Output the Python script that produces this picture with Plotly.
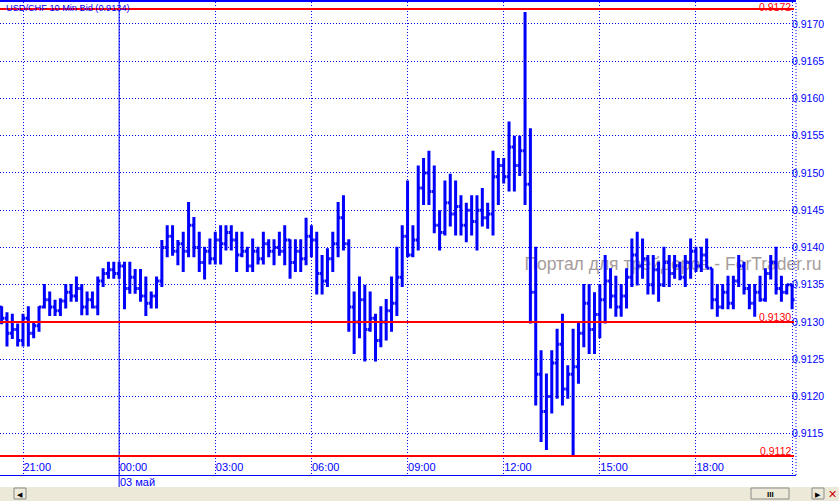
import pandas as pd
import plotly.graph_objects as go

# ---- data (USD/CHF, 10-minute bars, Bid) ----
bar_times = pd.date_range("2012-05-02 20:20", periods=149, freq="10min")

open_ = [
    0.91320, 0.91305, 0.91285, 0.91290, 0.91275, 0.91305, 0.91285, 0.91295, 0.91320, 0.91330,
    0.91320, 0.91315, 0.91328, 0.91340, 0.91335, 0.91345, 0.91320, 0.91330, 0.91320, 0.91355,
    0.91365, 0.91370, 0.91365, 0.91375, 0.91345, 0.91360, 0.91345, 0.91335, 0.91325, 0.91335,
    0.91355, 0.91400, 0.91415, 0.91395, 0.91405, 0.91395, 0.91430, 0.91400, 0.91380, 0.91395,
    0.91385, 0.91410, 0.91405, 0.91420, 0.91410, 0.91390, 0.91395, 0.91375, 0.91395, 0.91385,
    0.91405, 0.91395, 0.91400, 0.91395, 0.91410, 0.91380, 0.91395, 0.91385, 0.91415, 0.91410,
    0.91365, 0.91355, 0.91385, 0.91405, 0.91440, 0.91405, 0.91320, 0.91300, 0.91330, 0.91290,
    0.91305, 0.91275, 0.91300, 0.91315, 0.91325, 0.91360, 0.91415, 0.91390, 0.91410, 0.91480,
    0.91500, 0.91475, 0.91430, 0.91420, 0.91460, 0.91445, 0.91455, 0.91430, 0.91450, 0.91435,
    0.91450, 0.91440, 0.91445, 0.91495, 0.91510, 0.91495, 0.91535, 0.91510, 0.91530, 0.91485,
    0.91340, 0.91230, 0.91180, 0.91200, 0.91245, 0.91270, 0.91210, 0.91230, 0.91240, 0.91285,
    0.91325, 0.91290, 0.91310, 0.91330, 0.91355, 0.91335, 0.91320, 0.91335, 0.91360, 0.91390,
    0.91375, 0.91385, 0.91350, 0.91370, 0.91350, 0.91380, 0.91365, 0.91375, 0.91360, 0.91380,
    0.91395, 0.91375, 0.91390, 0.91372, 0.91330, 0.91320, 0.91340, 0.91325, 0.91355, 0.91375,
    0.91345, 0.91325, 0.91340, 0.91330, 0.91365, 0.91380, 0.91345, 0.91340, 0.91350,
]
high = [
    0.91321, 0.91313, 0.91311, 0.91298, 0.91311, 0.91321, 0.91300, 0.91321, 0.91351, 0.91341,
    0.91330, 0.91332, 0.91351, 0.91351, 0.91361, 0.91351, 0.91341, 0.91341, 0.91361, 0.91372,
    0.91381, 0.91381, 0.91381, 0.91381, 0.91381, 0.91371, 0.91371, 0.91361, 0.91341, 0.91361,
    0.91410, 0.91430, 0.91430, 0.91410, 0.91421, 0.91461, 0.91441, 0.91421, 0.91401, 0.91412,
    0.91421, 0.91430, 0.91430, 0.91430, 0.91421, 0.91421, 0.91401, 0.91412, 0.91401, 0.91421,
    0.91411, 0.91411, 0.91421, 0.91430, 0.91411, 0.91411, 0.91411, 0.91440, 0.91430, 0.91421,
    0.91390, 0.91399, 0.91421, 0.91461, 0.91470, 0.91411, 0.91341, 0.91361, 0.91350, 0.91341,
    0.91311, 0.91321, 0.91331, 0.91361, 0.91401, 0.91430, 0.91490, 0.91430, 0.91510, 0.91520,
    0.91530, 0.91510, 0.91450, 0.91490, 0.91499, 0.91490, 0.91470, 0.91460, 0.91470, 0.91470,
    0.91480, 0.91460, 0.91530, 0.91520, 0.91520, 0.91569, 0.91550, 0.91550, 0.91716, 0.91560,
    0.91401, 0.91262, 0.91231, 0.91262, 0.91291, 0.91311, 0.91242, 0.91291, 0.91300, 0.91351,
    0.91351, 0.91340, 0.91351, 0.91390, 0.91372, 0.91362, 0.91351, 0.91372, 0.91412, 0.91421,
    0.91412, 0.91390, 0.91390, 0.91381, 0.91401, 0.91390, 0.91390, 0.91381, 0.91390, 0.91412,
    0.91401, 0.91401, 0.91412, 0.91372, 0.91351, 0.91351, 0.91362, 0.91362, 0.91390, 0.91381,
    0.91351, 0.91351, 0.91362, 0.91372, 0.91390, 0.91401, 0.91362, 0.91351, 0.91351,
]
low = [
    0.91297, 0.91267, 0.91277, 0.91267, 0.91267, 0.91267, 0.91278, 0.91287, 0.91318, 0.91308,
    0.91308, 0.91308, 0.91318, 0.91327, 0.91327, 0.91309, 0.91309, 0.91318, 0.91309, 0.91347,
    0.91358, 0.91358, 0.91358, 0.91317, 0.91338, 0.91338, 0.91327, 0.91308, 0.91318, 0.91318,
    0.91347, 0.91387, 0.91389, 0.91376, 0.91367, 0.91387, 0.91387, 0.91367, 0.91357, 0.91377,
    0.91377, 0.91377, 0.91396, 0.91396, 0.91367, 0.91387, 0.91367, 0.91367, 0.91377, 0.91377,
    0.91387, 0.91376, 0.91389, 0.91376, 0.91358, 0.91367, 0.91367, 0.91376, 0.91387, 0.91337,
    0.91337, 0.91347, 0.91367, 0.91387, 0.91396, 0.91287, 0.91257, 0.91278, 0.91247, 0.91287,
    0.91247, 0.91266, 0.91275, 0.91287, 0.91308, 0.91347, 0.91387, 0.91387, 0.91396, 0.91457,
    0.91457, 0.91419, 0.91396, 0.91416, 0.91428, 0.91416, 0.91416, 0.91407, 0.91416, 0.91396,
    0.91428, 0.91425, 0.91416, 0.91457, 0.91486, 0.91475, 0.91475, 0.91496, 0.91457, 0.91298,
    0.91188, 0.91139, 0.91128, 0.91177, 0.91197, 0.91188, 0.91197, 0.91119, 0.91217, 0.91266,
    0.91257, 0.91257, 0.91278, 0.91298, 0.91318, 0.91307, 0.91307, 0.91318, 0.91347, 0.91349,
    0.91358, 0.91337, 0.91337, 0.91327, 0.91347, 0.91347, 0.91358, 0.91356, 0.91347, 0.91358,
    0.91367, 0.91367, 0.91372, 0.91317, 0.91307, 0.91317, 0.91317, 0.91317, 0.91347, 0.91337,
    0.91317, 0.91307, 0.91327, 0.91327, 0.91357, 0.91337, 0.91327, 0.91337, 0.91317,
]
close = [
    0.91305, 0.91285, 0.91290, 0.91275, 0.91305, 0.91285, 0.91295, 0.91320, 0.91330, 0.91320,
    0.91315, 0.91328, 0.91340, 0.91335, 0.91345, 0.91320, 0.91330, 0.91320, 0.91355, 0.91365,
    0.91370, 0.91365, 0.91375, 0.91345, 0.91360, 0.91345, 0.91335, 0.91325, 0.91335, 0.91355,
    0.91400, 0.91415, 0.91395, 0.91405, 0.91395, 0.91430, 0.91400, 0.91380, 0.91395, 0.91385,
    0.91410, 0.91405, 0.91420, 0.91410, 0.91390, 0.91395, 0.91375, 0.91395, 0.91385, 0.91405,
    0.91395, 0.91400, 0.91395, 0.91410, 0.91380, 0.91395, 0.91385, 0.91415, 0.91410, 0.91365,
    0.91355, 0.91385, 0.91405, 0.91440, 0.91405, 0.91320, 0.91300, 0.91330, 0.91290, 0.91305,
    0.91275, 0.91300, 0.91315, 0.91325, 0.91360, 0.91415, 0.91390, 0.91410, 0.91480, 0.91500,
    0.91475, 0.91430, 0.91420, 0.91460, 0.91445, 0.91455, 0.91430, 0.91450, 0.91435, 0.91450,
    0.91440, 0.91445, 0.91495, 0.91510, 0.91495, 0.91535, 0.91510, 0.91530, 0.91485, 0.91340,
    0.91230, 0.91180, 0.91200, 0.91245, 0.91270, 0.91210, 0.91230, 0.91240, 0.91285, 0.91325,
    0.91290, 0.91310, 0.91330, 0.91355, 0.91335, 0.91320, 0.91335, 0.91360, 0.91390, 0.91375,
    0.91385, 0.91350, 0.91370, 0.91350, 0.91380, 0.91365, 0.91375, 0.91360, 0.91380, 0.91395,
    0.91375, 0.91390, 0.91372, 0.91330, 0.91320, 0.91340, 0.91325, 0.91355, 0.91375, 0.91345,
    0.91325, 0.91340, 0.91330, 0.91365, 0.91380, 0.91345, 0.91340, 0.91350, 0.91330,
]

price_ticks = [0.9115, 0.9120, 0.9125, 0.9130, 0.9135, 0.9140, 0.9145,
               0.9150, 0.9155, 0.9160, 0.9165, 0.9170]
time_ticks = ["2012-05-02 21:00", "2012-05-03 00:00", "2012-05-03 03:00",
              "2012-05-03 06:00", "2012-05-03 09:00", "2012-05-03 12:00",
              "2012-05-03 15:00", "2012-05-03 18:00", "2012-05-03 21:00"]
time_labels = ["21:00", "00:00", "03:00", "06:00", "09:00", "12:00", "15:00", "18:00", ""]
level_lines = [0.9172, 0.9130, 0.9112]
level_labels = ["0.9172", "0.9130", "0.9112"]
day_break = "2012-05-03 00:00"
day_label = "03 май"
title_text = "USD/CHF 10 Min Bid (0.9134)"
watermark = "Портал для трейдеров - ForTrader.ru"

BLUE = "#0000FF"
RED = "#FF0000"
FONT = "Arial, Liberation Sans, sans-serif"

W, H = 839, 501
ML, MR, MT, MB = 0, 43, 2, 26
PW, PH = W - ML - MR, H - MT - MB


def px_x(px):
    return (px - ML) / PW


def px_y(py):
    return (H - MB - py) / PH


fig = go.Figure()
fig.add_trace(go.Ohlc(
    x=bar_times, open=open_, high=high, low=low, close=close,
    increasing=dict(line=dict(color=BLUE, width=3)),
    decreasing=dict(line=dict(color=BLUE, width=3)),
    tickwidth=0.45, hoverinfo="skip", showlegend=False,
))

shapes = []
# watermark beneath the bars
shapes.append(dict(type="rect", xref="paper", yref="paper",
                   x0=px_x(520), x1=px_x(826), y0=px_y(272), y1=px_y(252),
                   line=dict(width=0), fillcolor="rgba(0,0,0,0)", layer="below",
                   label=dict(text=watermark, textposition="middle center",
                              font=dict(family=FONT, size=17.5, color="#A69C9C"))))
# day separator
shapes.append(dict(type="line", xref="x", yref="paper", x0=day_break, x1=day_break,
                   y0=px_y(487), y1=1, line=dict(color=BLUE, width=1)))
# right frame (dotted)
shapes.append(dict(type="line", xref="paper", yref="paper", x0=1, x1=1,
                   y0=px_y(475), y1=1, line=dict(color=BLUE, width=1, dash="1px,2px")))
# top frame
shapes.append(dict(type="line", xref="paper", yref="paper", x0=0, x1=1,
                   y0=px_y(1), y1=px_y(1), line=dict(color=BLUE, width=2)))
# red level lines
for lv in level_lines:
    shapes.append(dict(type="line", xref="paper", yref="y", x0=0, x1=px_x(794),
                       y0=lv, y1=lv, line=dict(color=RED, width=2)))
# bottom scroll bar area
shapes.append(dict(type="rect", xref="paper", yref="paper", x0=px_x(0), x1=px_x(839),
                   y0=px_y(501), y1=px_y(487), line=dict(width=0), fillcolor="#ECE9D8"))
shapes.append(dict(type="rect", xref="paper", yref="paper", x0=px_x(751), x1=px_x(789),
                   y0=px_y(499), y1=px_y(488), line=dict(width=1, color="#8A8A8A"),
                   fillcolor="#ECE9D8"))
shapes.append(dict(type="rect", xref="paper", yref="paper", x0=px_x(14), x1=px_x(26),
                   y0=px_y(499), y1=px_y(488), line=dict(width=1, color="#8A8A8A"),
                   fillcolor="#ECE9D8"))
shapes.append(dict(type="rect", xref="paper", yref="paper", x0=px_x(812), x1=px_x(824),
                   y0=px_y(499), y1=px_y(488), line=dict(width=1, color="#8A8A8A"),
                   fillcolor="#ECE9D8"))

annotations = []
annotations.append(dict(text=title_text, xref="paper", yref="paper",
                        x=px_x(4), y=px_y(8), xanchor="left", yanchor="middle",
                        showarrow=False, font=dict(family=FONT, size=9.2, color=BLUE)))
for lv, lab in zip(level_lines, level_labels):
    shift = -6 if lab == "0.9172" else -3
    annotations.append(dict(text=lab, xref="paper", yref="y", x=px_x(793), y=lv,
                            xanchor="right", yanchor="bottom", yshift=shift,
                            showarrow=False, font=dict(family=FONT, size=10.5, color=RED)))
annotations.append(dict(text=day_label, xref="x", yref="paper", x=day_break,
                        y=px_y(482), xanchor="left", yanchor="middle", xshift=-1,
                        showarrow=False, font=dict(family=FONT, size=11, color=BLUE)))
annotations.append(dict(text="◀", xref="paper", yref="paper", x=px_x(20), y=px_y(494),
                        xanchor="center", yanchor="middle", showarrow=False,
                        font=dict(family=FONT, size=7, color="#000000")))
annotations.append(dict(text="▶", xref="paper", yref="paper", x=px_x(818), y=px_y(494),
                        xanchor="center", yanchor="middle", showarrow=False,
                        font=dict(family=FONT, size=7, color="#000000")))
annotations.append(dict(text="<b>III</b>", xref="paper", yref="paper", x=px_x(770), y=px_y(494),
                        xanchor="center", yanchor="middle", showarrow=False,
                        font=dict(family=FONT, size=8, color="#000000")))
annotations.append(dict(text="✕", xref="paper", yref="paper", x=px_x(832), y=px_y(494),
                        xanchor="center", yanchor="middle", showarrow=False,
                        font=dict(family=FONT, size=11, color="#CC0000")))

fig.update_layout(
    width=W, height=H,
    margin=dict(l=ML, r=MR, t=MT, b=MB, pad=0),
    paper_bgcolor="white", plot_bgcolor="white",
    shapes=shapes, annotations=annotations,
    showlegend=False,
)
fig.update_xaxes(
    type="date",
    range=["2012-05-02 20:16:56", "2012-05-03 21:07:18"],
    rangeslider=dict(visible=False),
    tickmode="array", tickvals=time_ticks, ticktext=time_labels,
    ticks="", ticklabelposition="inside right", ticklabelstandoff=-2,
    tickfont=dict(family=FONT, size=11, color=BLUE),
    showgrid=True, gridcolor=BLUE, gridwidth=1, griddash="1px,2px",
    showline=True, linecolor=BLUE, linewidth=1,
    zeroline=False, fixedrange=True,
)
fig.update_yaxes(
    side="right",
    range=[0.910946, 0.917295],
    tickmode="array", tickvals=price_ticks, tickformat=".4f",
    ticks="", ticklabelstandoff=-5,
    tickfont=dict(family=FONT, size=10.5, color=BLUE),
    showgrid=True, gridcolor=BLUE, gridwidth=1, griddash="1px,2px",
    showline=False, zeroline=False, fixedrange=True,
)

fig.write_html("out.html", config={"displayModeBar": False},
               post_script="document.body.style.margin='0';document.body.style.overflow='hidden';")
